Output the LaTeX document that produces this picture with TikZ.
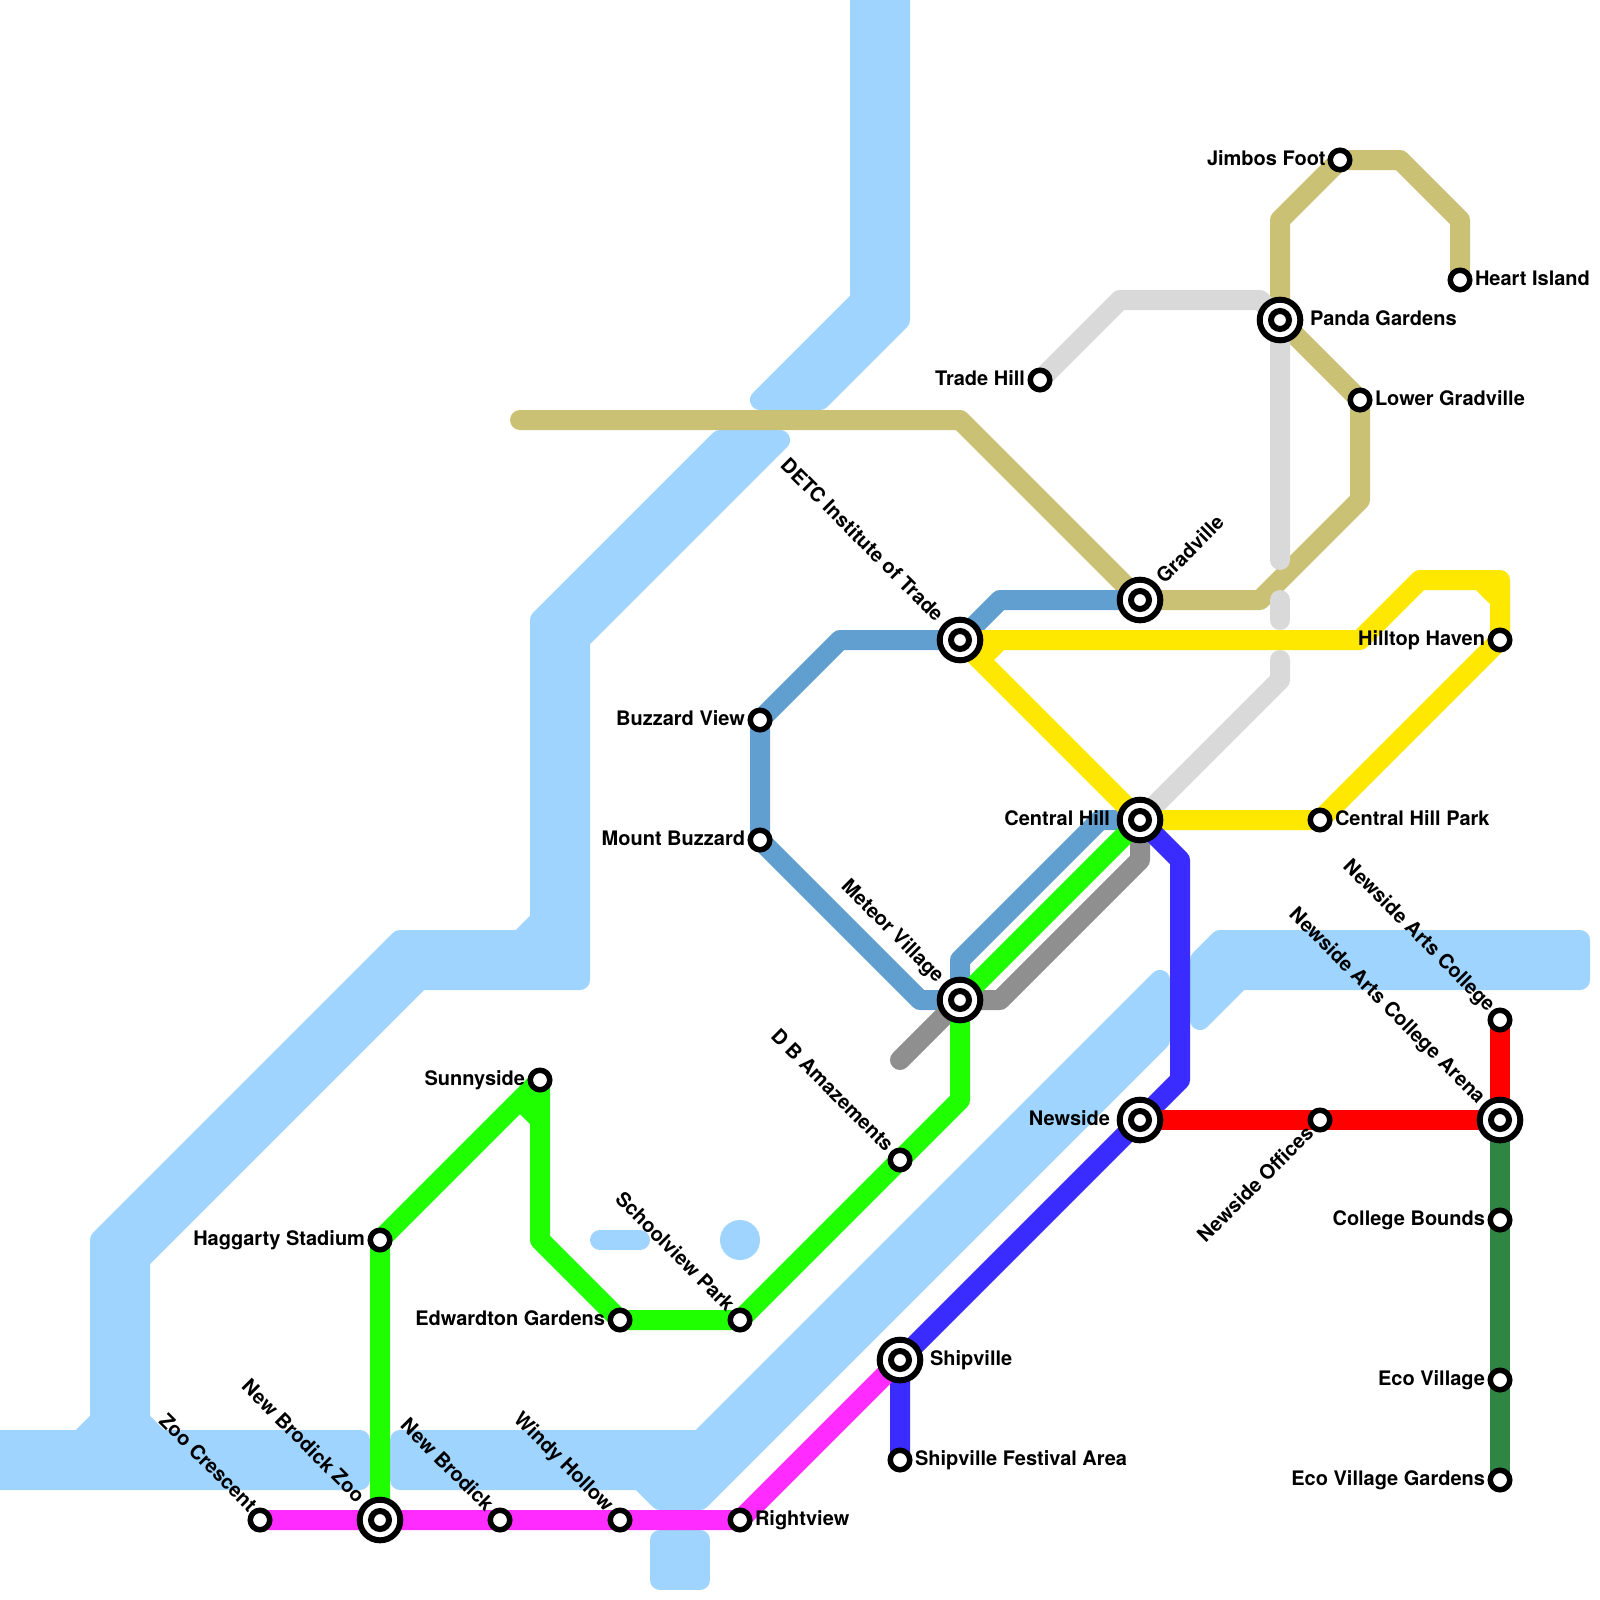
\documentclass[tikz,border=0pt]{standalone}
\usepackage{fontspec}
\setmainfont{TeX Gyre Heros}
\pgfdeclarelayer{bg}
\pgfsetlayers{bg,main}
\definecolor{water}{HTML}{9FD4FF}
\definecolor{ltan}{HTML}{CBC174}
\definecolor{lsteel}{HTML}{619FD0}
\definecolor{lyellow}{HTML}{FFE800}
\definecolor{lpale}{HTML}{D9D9D9}
\definecolor{lgrey}{HTML}{8F8F8F}
\definecolor{lgreen}{HTML}{20FF00}
\definecolor{lviolet}{HTML}{3A2BFF}
\definecolor{lmag}{HTML}{FF2BFF}
\definecolor{lred}{HTML}{FF0000}
\definecolor{ldark}{HTML}{2F8542}
\tikzset{
  x=10pt,y=-10pt,
  route/.style={draw=#1,line width=10pt,line join=round,line cap=butt},
  routeend/.style={draw=#1,line width=10pt,line join=round,line cap=round},
  lake/.style={fill=water,draw=water,line width=10pt,line join=round},
  stn/.style={circle,draw=black,fill=white,line width=2.75pt,minimum size=9.75pt,inner sep=0pt,outer sep=0pt},
  hubo/.style={circle,draw=black,fill=white,line width=3pt,minimum size=20.3pt,inner sep=0pt,outer sep=0pt},
  hubi/.style={circle,draw=black,fill=white,line width=3pt,minimum size=9pt,inner sep=0pt,outer sep=0pt},
  lbl/.style={inner sep=0pt,outer sep=0pt,font=\fontsize{10}{11}\selectfont\bfseries,text=black},
  lr/.style={lbl,anchor=mid west},
  ll/.style={lbl,anchor=mid east},
  ld/.style={lbl,anchor=mid east,rotate=-45},
  lu/.style={lbl,anchor=mid west,rotate=45},
  lue/.style={lbl,anchor=mid east,rotate=45},
}
\newcommand{\hubstn}[2]{\node[hubo] (#1) at (#2) {}; \node[hubi] (#1-in) at (#2) {};}
\begin{document}
\begin{tikzpicture}
\useasboundingbox (0,0) rectangle (80,80);
% stations
\node[stn] (jimbos) at (67,8) {};
\node[stn] (heart) at (73,14) {};
\hubstn{panda}{64,16}
\node[stn] (lower) at (68,20) {};
\node[stn] (trade) at (52,19) {};
\hubstn{gradville}{57,30}
\hubstn{detc}{48,32}
\node[stn] (hilltop) at (75,32) {};
\node[stn] (buzzard) at (38,36) {};
\node[stn] (mount) at (38,42) {};
\hubstn{central}{57,41}
\node[stn] (cpark) at (66,41) {};
\hubstn{meteor}{48,50}
\node[stn] (arts) at (75,51) {};
\node[stn] (sunny) at (27,54) {};
\hubstn{newside}{57,56}
\node[stn] (offices) at (66,56) {};
\hubstn{arena}{75,56}
\node[stn] (amaze) at (45,58) {};
\node[stn] (bounds) at (75,61) {};
\node[stn] (haggarty) at (19,62) {};
\node[stn] (edward) at (31,66) {};
\node[stn] (school) at (37,66) {};
\hubstn{ship}{45,68}
\node[stn] (eco) at (75,69) {};
\node[stn] (festival) at (45,73) {};
\node[stn] (ecog) at (75,74) {};
\node[stn] (zoocr) at (13,76) {};
\hubstn{nbzoo}{19,76}
\node[stn] (nb) at (25,76) {};
\node[stn] (windy) at (31,76) {};
\node[stn] (right) at (37,76) {};
% labels
\node[ll] (t1) at (66.27,8) {Jimbos Foot};
\node[lr] (t2) at (73.75,14) {Heart Island};
\node[lr] (t3) at (65.5,16) {Panda Gardens};
\node[lr] (t4) at (68.75,20) {Lower Gradville};
\node[ll] (t5) at (51.25,19) {Trade Hill};
\node[lu] (t6) at (58.05,29.05) {Gradville};
\node[ld] (t7) at (46.95,30.95) {DETC Institute of Trade};
\node[ll] (t8) at (74.25,32) {Hilltop Haven};
\node[ll] (t9) at (37.25,36) {Buzzard View};
\node[ll] (t10) at (37.25,42) {Mount Buzzard};
\node[ll] (t11) at (55.5,41) {Central Hill};
\node[lr] (t12) at (66.75,41) {Central Hill Park};
\node[ld] (t13) at (47,49) {Meteor Village};
\node[ld] (t14) at (74.55,50.45) {Newside Arts College};
\node[ll] (t15) at (26.25,54) {Sunnyside};
\node[ll] (t16) at (55.5,56) {Newside};
\node[lue] (t17) at (65.55,56.55) {Newside Offices};
\node[ld] (t18) at (74.05,55.05) {Newside Arts College Arena};
\node[ld] (t19) at (44.45,57.45) {D B Amazements};
\node[ll] (t20) at (74.25,61) {College Bounds};
\node[ll] (t21) at (18.25,62) {Haggarty Stadium};
\node[ll] (t22) at (30.25,66) {Edwardton Gardens};
\node[ld] (t23) at (36.5,65.45) {Schoolview Park};
\node[lr] (t24) at (46.5,68) {Shipville};
\node[ll] (t25) at (74.25,69) {Eco Village};
\node[lr] (t26) at (45.75,73) {Shipville Festival Area};
\node[ll] (t27) at (74.25,74) {Eco Village Gardens};
\node[ld] (t28) at (12.6,75.45) {Zoo Crescent};
\node[ld] (t29) at (18,75) {New Brodick Zoo};
\node[ld] (t30) at (24.45,75.45) {New Brodick};
\node[ld] (t31) at (30.45,75.45) {Windy Hollow};
\node[lr] (t32) at (37.75,76) {Rightview};
\begin{pgfonlayer}{bg}
\begin{scope}
\clip (0,0) rectangle (80,80);
\fill[white] (0,0) rectangle (80,80);
% water
\path[lake] (43,-2) -- (43,15) -- (38,20) -- (41,20) -- (45,16) -- (45,-2) -- cycle;
\path[lake] (36,22) -- (39,22) -- (29,32) -- (29,49) -- (21,49) -- (7,63) -- (7,71) -- (8,72) -- (18,72) -- (18,74) -- (-2,74) -- (-2,72) -- (4,72) -- (5,71) -- (5,62) -- (20,47) -- (26,47) -- (27,46) -- (27,31) -- cycle;
\path[lake] (20,72) -- (35,72) -- (58,49) -- (58,52) -- (35,75) -- (33,75) -- (32,74) -- (20,74) -- cycle;
\path[lake] (60,48) -- (61,47) -- (79,47) -- (79,49) -- (62,49) -- (60,51) -- cycle;
\path[lake] (33,77) rectangle (35,79);
\draw[water,line width=10pt,line cap=round] (30,62) -- (32,62);
\fill[water] (37,62) circle (1);
% tan
\draw[routeend=ltan] (26,21) -- (48,21) -- (gradville.center) -- (63,30) -- (68,25) -- (lower.center) -- (panda.center);
\draw[route=ltan] (panda.center) -- (64,11) -- (jimbos.center) -- (70,8) -- (73,11) -- (heart.center);
% pale grey
\draw[routeend=lpale] (trade.center) -- (56,15) -- (63,15) -- (panda.center) -- (64,28);
\draw[routeend=lpale] (64,30) -- (64,31);
\draw[routeend=lpale] (64,33) -- (64,34) -- (central.center);
% steel blue
\draw[route=lsteel] (gradville.center) -- (50,30) -- (detc.center) -- (42,32) -- (buzzard.center) -- (mount.center) -- (46,50) -- (meteor.center) -- (48,48) -- (55,41) -- (central.center);
% grey
\draw[routeend=lgrey] (45,53) -- (meteor.center);
\draw[route=lgrey] (meteor.center) -- (50,50) -- (57,43) -- (central.center);
% yellow
\draw[route=lyellow] (detc.center) -- (68,32) -- (71,29) -- (75,29) -- (hilltop.center);
\draw[route=lyellow] (50,32) -- (49,33) -- (central.center) -- (cpark.center) -- (hilltop.center) -- (75,30) -- (74,29);
\draw[route=lyellow] (detc.center) -- (49,33);
% green
\draw[route=lgreen] (meteor.center) -- (central.center);
\draw[route=lgreen] (nbzoo.center) -- (haggarty.center) -- (sunny.center) -- (27,56) -- (26,55);
\draw[route=lgreen] (27,56) -- (27,62) -- (edward.center) -- (school.center) -- (amaze.center) -- (48,55) -- (meteor.center);
% violet
\draw[route=lviolet] (central.center) -- (59,43) -- (59,54) -- (newside.center) -- (ship.center) -- (festival.center);
% magenta
\draw[route=lmag] (zoocr.center) -- (right.center) -- (ship.center);
% red and dark green
\draw[route=ldark] (arena.center) -- (ecog.center);
\draw[route=lred] (newside.center) -- (arena.center) -- (arts.center);
\end{scope}
\end{pgfonlayer}
\end{tikzpicture}
\end{document}
